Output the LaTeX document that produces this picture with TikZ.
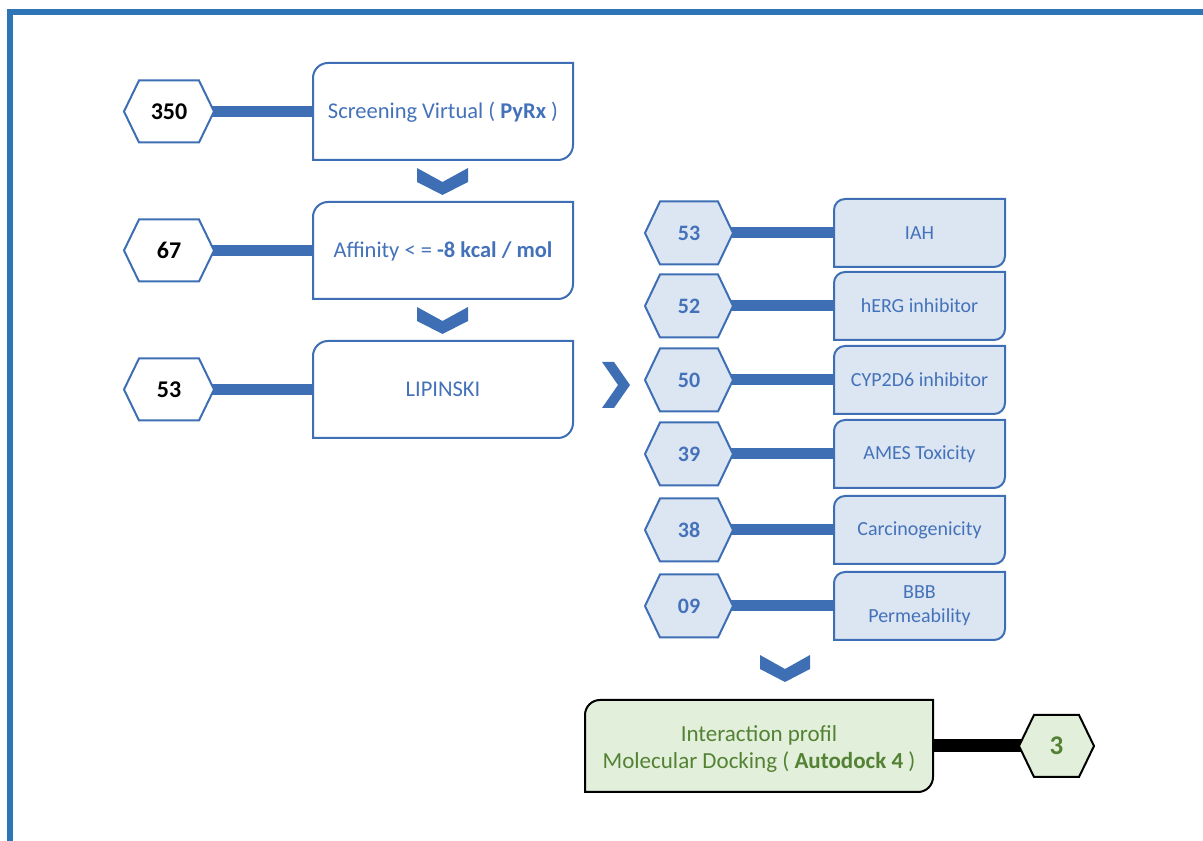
\documentclass[tikz,border=0pt]{standalone}
\usepackage{fontspec}
\setmainfont{Carlito}
\usetikzlibrary{calc}
\definecolor{frameblue}{RGB}{46,117,182}
\definecolor{lineblue}{RGB}{62,110,180}
\definecolor{txtblue}{RGB}{68,114,186}
\definecolor{lightblue}{RGB}{220,230,242}
\definecolor{lightgreen}{RGB}{226,239,218}
\definecolor{txtgreen}{RGB}{84,130,53}
\pgfdeclarelayer{bg}\pgfdeclarelayer{mid}\pgfsetlayers{bg,mid,main}
\newcommand{\hexshape}[3]{%
 \begin{pgfonlayer}{mid}\path[#2] (#1.west) -- ([xshift=#3]#1.north west) -- ([xshift=-#3]#1.north east) -- (#1.east) -- ([xshift=-#3]#1.south east) -- ([xshift=#3]#1.south west) -- cycle;\end{pgfonlayer}}
\newcommand{\diagbox}[3]{%
 \begin{pgfonlayer}{mid}\path[#2] (#1.south west) -- ([yshift=-#3]#1.north west) arc[start angle=180,end angle=90,radius=#3] -- (#1.north east) -- ([yshift=#3]#1.south east) arc[start angle=0,end angle=-90,radius=#3] -- cycle;\end{pgfonlayer}}
\tikzset{
  holder/.style={inner sep=0pt, outer sep=0pt, align=center},
  lbox/.style={holder, minimum width=260, minimum height=97, text depth=0pt, text height=0pt, text=txtblue, font=\fontsize{22.5}{26}\selectfont},
  rbox/.style={holder, minimum width=171, minimum height=68, text=txtblue, font=\fontsize{20}{24}\selectfont},
  lhex/.style={holder, minimum width=90, minimum height=62, text=black, font=\bfseries\fontsize{24}{28}\selectfont},
  rhex/.style={holder, minimum width=88, minimum height=63, text=txtblue, font=\bfseries\fontsize{22}{26}\selectfont},
  blueout/.style={draw=lineblue, line width=2pt, fill=white},
  bluefill/.style={draw=lineblue, line width=2pt, fill=lightblue},
  greenfill/.style={draw=black, line width=2pt, fill=lightgreen},
  bluebar/.style={draw=lineblue, line width=11pt},
  blackbar/.style={draw=black, line width=13pt},
  chev/.style={fill=lineblue}
}
\begin{document}
\begin{tikzpicture}[x=1pt,y=1pt]
\useasboundingbox (0,0) rectangle (1203,841);
% frame
\fill[frameblue] (7,0) rectangle (13,832);
\fill[frameblue] (7,826) rectangle (1203,832);

% left column
\node[lbox] (b1) at (443,729.5) {\raisebox{-7.5pt}{Screening Virtual ( \textbf{PyRx} )}};
\node[lbox] (b2) at (443,590.5) {\raisebox{-7.5pt}{Affinity < = \textbf{-8 kcal / mol}}};
\node[lbox] (b3) at (443,451.5) {\raisebox{-7.5pt}{LIPINSKI}};
\node[lhex] (h1) at (169,729.5) {350};
\node[lhex] (h2) at (169,590.5) {67};
\node[lhex] (h3) at (169,451.5) {53};
\foreach \n in {b1,b2,b3}{\diagbox{\n}{blueout}{15}}
\foreach \n in {h1,h2,h3}{\hexshape{\n}{blueout}{15}}
\begin{pgfonlayer}{bg}
\foreach \i in {1,2,3}{\draw[bluebar] (h\i.center) -- (b\i.west);}
\end{pgfonlayer}

% down chevrons left
\fill[chev] (417,673) -- (442.5,659) -- (468,673) -- (468,659) -- (442.5,646) -- (417,659) -- cycle;
\fill[chev] (417,534) -- (442.5,520) -- (468,534) -- (468,520) -- (442.5,507) -- (417,520) -- cycle;
% right chevron
\fill[chev] (602,479) -- (614,479) -- (630,456) -- (614,433) -- (602,433) -- (618,456) -- cycle;

% right column
\node[rbox] (r1) at (919.5,608) {IAH};
\node[rbox] (r2) at (919.5,535) {hERG inhibitor};
\node[rbox] (r3) at (919.5,461) {CYP2D6 inhibitor};
\node[rbox] (r4) at (919.5,387) {AMES Toxicity};
\node[rbox] (r5) at (919.5,311) {Carcinogenicity};
\node[rbox] (r6) at (919.5,235) {BBB\\Permeability};
\node[rhex] (k1) at (689,608) {53};
\node[rhex] (k2) at (689,535) {52};
\node[rhex] (k3) at (689,461) {50};
\node[rhex] (k4) at (689,387) {39};
\node[rhex] (k5) at (689,311) {38};
\node[rhex] (k6) at (689,235) {09};
\foreach \i in {1,...,6}{\diagbox{r\i}{bluefill}{11}\hexshape{k\i}{bluefill}{15}}
\begin{pgfonlayer}{bg}
\foreach \i in {1,...,6}{\draw[bluebar] (k\i.center) -- (r\i.west);}
\end{pgfonlayer}

% down chevron right
\fill[chev] (760,186) -- (785,172) -- (810,186) -- (810,172) -- (785,159) -- (760,172) -- cycle;

% final
\node[holder, minimum width=348, minimum height=92, text=txtgreen, font=\fontsize{23}{27}\selectfont] (fb) at (759,95) {};
\node[text=txtgreen, font=\fontsize{23}{27}\selectfont, align=center, inner sep=0pt] (ft) at ([yshift=-3]fb.center) {Interaction profil\\Molecular Docking ( \textbf{Autodock 4} )};
\node[holder, minimum width=75, minimum height=62, text=txtgreen, font=\bfseries\fontsize{27}{30}\selectfont] (fh) at (1056.5,95) {3};
\diagbox{fb}{greenfill}{15}
\hexshape{fh}{greenfill}{15}
\begin{pgfonlayer}{bg}
\draw[blackbar] (fb.center) -- (fh.center);
\end{pgfonlayer}
\end{tikzpicture}
\end{document}
